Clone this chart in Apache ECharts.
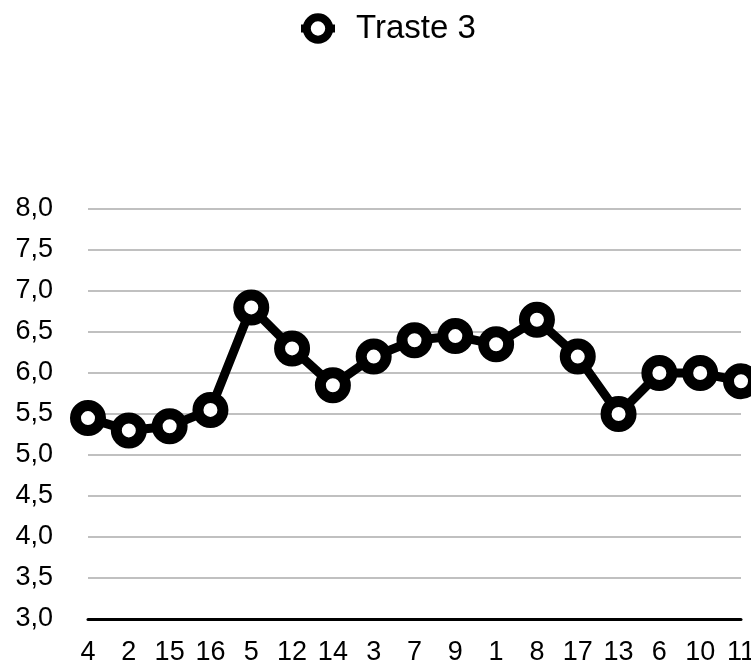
<!DOCTYPE html>
<html>
<head>
<meta charset="utf-8">
<script src="https://cdn.jsdelivr.net/npm/echarts@6/dist/echarts.min.js"></script>
<style>
html,body{margin:0;padding:0;background:#fff;}
#chart{width:751px;height:663px;}
</style>
</head>
<body>
<div id="chart"></div>
<script>
const categories = ['4','2','15','16','5','12','14','3','7','9','1','8','17','13','6','10','11'];
const traste3 = [5.45, 5.3, 5.35, 5.55, 6.8, 6.3, 5.85, 6.2, 6.4, 6.45, 6.35, 6.65, 6.2, 5.5, 6.0, 6.0, 5.9];
const seriesName = 'Traste 3';

const chart = echarts.init(document.getElementById('chart'), null, {renderer:'canvas'});
chart.setOption({
  backgroundColor: '#ffffff',
  animation: false,
  textStyle: { fontFamily: 'Liberation Sans' },
  legend: {
    data: [seriesName],
    top: 7,
    left: 292,
    itemWidth: 34,
    itemHeight: 28,
    itemGap: 10,
    itemStyle: { color: '#fff', borderColor: '#000', borderWidth: 8 },
    lineStyle: { color: '#000', width: 8 },
    textStyle: { fontSize: 33, color: '#000', fontFamily: 'Liberation Sans', padding: [0, 0, 0, 16] }
  },
  grid: { left: 88, right: 10, top: 209, bottom: 44, containLabel: false, outerBoundsMode: 'none' },
  xAxis: {
    type: 'category',
    data: categories,
    boundaryGap: false,
    axisLine: { lineStyle: { color: '#000', width: 3 } },
    axisTick: { show: false },
    axisLabel: { color: '#000', fontSize: 27, margin: 20, interval: 0 }
  },
  yAxis: {
    type: 'value',
    min: 3,
    max: 8,
    interval: 0.5,
    axisLine: { show: false },
    axisTick: { show: false },
    splitLine: { lineStyle: { color: '#c0c0c0', width: 2 } },
    axisLabel: {
      color: '#000', fontSize: 27, margin: 35,
      formatter: v => v.toFixed(1).replace('.', ',')
    }
  },
  series: [{
    name: seriesName,
    type: 'line',
    data: traste3,
    symbol: 'circle',
    symbolSize: 25,
    lineStyle: { color: '#000', width: 9 },
    itemStyle: { color: '#fff', borderColor: '#000', borderWidth: 11 },
    z: 5
  }]
});
</script>
</body>
</html>
